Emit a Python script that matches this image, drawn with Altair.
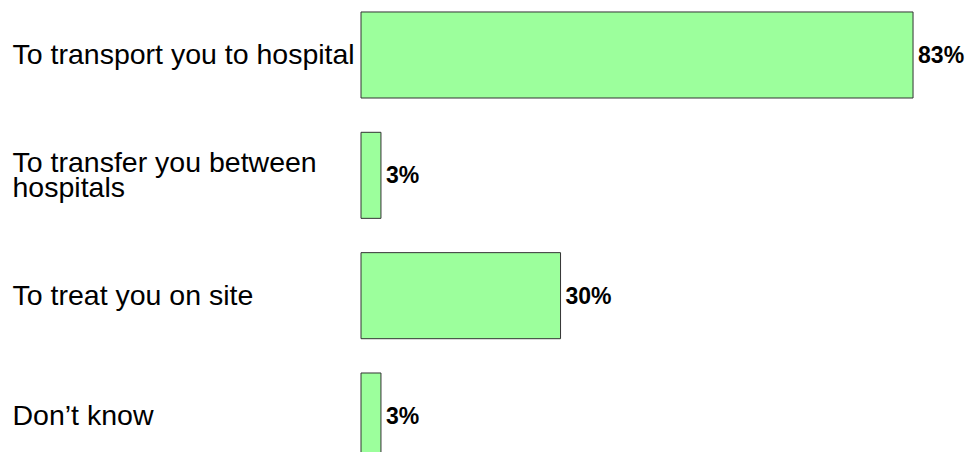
import altair as alt
import pandas as pd

categories = [
    "To transport you to hospital",
    "To transfer you between hospitals",
    "To treat you on site",
    "Don\u2019t know",
]
values = [83, 3, 30, 3]
labels = [f"{v}%" for v in values]

df = pd.DataFrame({"category": categories, "value": values, "label": labels})

label_expr = (
    "datum.value == 'To transfer you between hospitals' ? "
    "['To transfer you between', 'hospitals'] : datum.value"
)
offset_expr = "datum.value == 'To transfer you between hospitals' ? -12 : 0"

y_enc = alt.Y(
    "category:N",
    sort=categories,
    scale=alt.Scale(range=[0, 455], paddingInner=0.285, paddingOuter=0.033),
    axis=alt.Axis(
        title=None,
        orient="left",
        ticks=False,
        tickSize=0,
        domain=False,
        grid=False,
        labelAlign="left",
        labelBaseline="middle",
        labelPadding=349,
        labelLimit=400,
        labelFont="Liberation Sans",
        labelFontSize=28.5,
        labelLineHeight=25,
        labelColor="#000000",
        labelExpr=label_expr,
        labelOffset={"expr": offset_expr},
    ),
)

x_scale = alt.Scale(domain=[0, 85.7], nice=False, zero=True)

bars = alt.Chart(df).mark_bar(
    color="#9CFF9C", stroke="#333333", strokeWidth=1
).encode(
    x=alt.X("value:Q", scale=x_scale, axis=None),
    y=y_enc,
)

text = alt.Chart(df).mark_text(
    align="left",
    baseline="middle",
    dx=5,
    dy=1,
    font="Liberation Sans",
    fontSize=23,
    fontWeight="bold",
    color="#000000",
).encode(
    x=alt.X("value:Q", scale=x_scale, axis=None),
    y=alt.Y("category:N", sort=categories),
    text="label:N",
)

chart = (
    alt.layer(bars, text)
    .properties(
        width=570,
        height=444,
        background="white",
        autosize=alt.AutoSizeParams(type="none"),
        padding={"left": 353, "top": 0, "right": 34, "bottom": 0},
    )
    .configure_view(stroke=None, strokeWidth=0)
)

chart.save("out.html", embed_options={"renderer": "svg", "actions": False})
